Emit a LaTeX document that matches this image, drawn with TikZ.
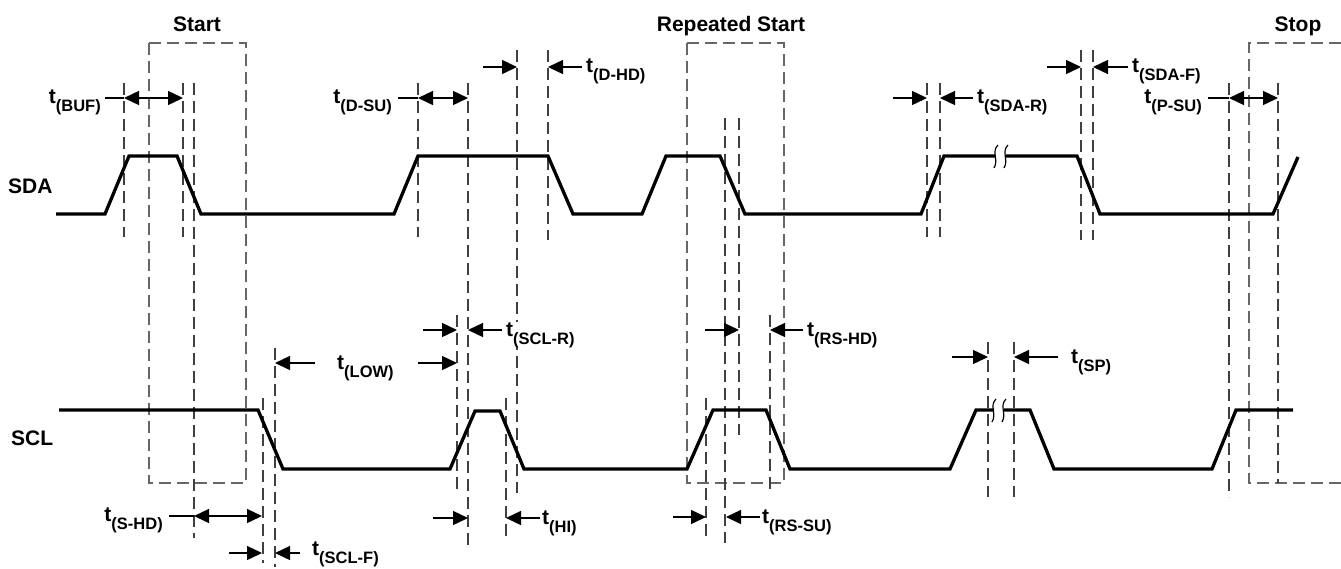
\documentclass[tikz,border=0pt]{standalone}
\usepackage{fontspec}
\setmainfont{Liberation Sans}
\usetikzlibrary{arrows.meta}
\newcommand{\tlab}[1]{t\lower8pt\hbox{\fontsize{16.5}{16.5}\selectfont\bfseries #1}}
\begin{document}
\begin{tikzpicture}[x=1pt,y=-1pt,
  sig/.style={line width=3.3pt, black},
  vdash/.style={line width=1.3pt, black!75, dash pattern=on 12pt off 6pt},
  boxdash/.style={line width=1.3pt, black!60, dash pattern=on 12pt off 6pt},
  meas/.style={line width=1.4pt, -{Triangle[length=15pt,width=14pt]}},
  dmeas/.style={line width=1.4pt, {Triangle[length=15pt,width=14pt]}-{Triangle[length=15pt,width=14pt]}},
  lead/.style={line width=1.4pt},
  brk/.style={line width=1.2pt},
  lbl/.style={inner sep=0pt, font=\fontsize{21}{21}\selectfont\bfseries},
  tl/.style={lbl, fill=white},
]
\useasboundingbox (0,0) rectangle (1341,568);

% ---------- titles ----------
\node[lbl, anchor=base] (tStart) at (197,31) {Start};
\node[lbl, anchor=base] (tRep) at (731,31) {Repeated Start};
\node[lbl, anchor=base] (tStop) at (1298,31) {Stop};
\node[lbl, anchor=base west] (nSDA) at (8,193) {SDA};
\node[lbl, anchor=base west] (nSCL) at (11,445) {SCL};

% ---------- dashed boxes ----------
\draw[boxdash] (149,43) rectangle (246,483);
\draw[boxdash] (687,43) rectangle (784,483);
\draw[boxdash] (1341,43) -- (1249,43) -- (1249,483) -- (1341,483);

% ---------- dashed timing lines ----------
\foreach \x/\a/\b in {124/83/237, 183/83/237, 194/83/538, 263/398/563, 275/348/567,
  418/83/237, 468/83/547, 517/50/493, 548/50/240, 457/315/492, 506/398/538,
  725/118/543, 739/118/435, 770/315/492, 706/398/540,
  927/83/237, 940/83/237, 1081/50/240, 1093/50/240,
  988/342/497, 1014/342/497, 1229/83/497, 1278/83/483}
  \draw[vdash] (\x,\a) -- (\x,\b);

% ---------- SDA ----------
\draw[sig] (56,214) -- (105,214) -- (129,156) -- (177,156) -- (201,214) -- (394,214)
  -- (418,156) -- (548,156) -- (573,214) -- (642,214) -- (666,156) -- (720,156)
  -- (745,214) -- (921,214) -- (944,156) -- (995,156);
\draw[sig] (1006,156) -- (1077,156) -- (1100,214) -- (1273,214) -- (1298,157);
\draw[brk] (998,145) .. controls (991,152) and (999,160) .. (994,168);
\draw[brk] (1008,145) .. controls (1001,152) and (1009,160) .. (1004,168);

% ---------- SCL ----------
\draw[sig] (59,410) -- (258,410) -- (283,469) -- (450,469) -- (475,411) -- (500,411)
  -- (524,469) -- (687,469) -- (713,410) -- (766,410) -- (790,469) -- (950,469)
  -- (976,410) -- (994,410);
\draw[sig] (1004,410) -- (1030,410) -- (1054,469) -- (1212,469) -- (1236,410) -- (1293,410);
\draw[brk] (996,399) .. controls (989,406) and (997,414) .. (992,422);
\draw[brk] (1006,399) .. controls (999,406) and (1007,414) .. (1002,422);

% ---------- measurement arrows ----------
% t(BUF)
\draw[lead] (105,98) -- (124,98);
\draw[dmeas] (124,98) -- (183,98);
% t(D-SU)
\draw[lead] (398,98) -- (418,98);
\draw[dmeas] (418,98) -- (468,98);
% t(D-HD)
\draw[meas] (483,67) -- (517,67);
\draw[meas] (582,67) -- (548,67);
% t(SDA-R)
\draw[meas] (893,98) -- (927,98);
\draw[meas] (973,98) -- (940,98);
% t(SDA-F)
\draw[meas] (1047,67) -- (1081,67);
\draw[meas] (1128,67) -- (1093,67);
% t(P-SU)
\draw[lead] (1208,98) -- (1229,98);
\draw[dmeas] (1229,98) -- (1278,98);
% t(S-HD)
\draw[lead] (169,516) -- (194,516);
\draw[dmeas] (194,516) -- (262,516);
% t(SCL-F)
\draw[meas] (229,553) -- (262,553);
\draw[meas] (300,553) -- (275,553);
% t(LOW)
\draw[meas] (315,363) -- (275,363);
\draw[meas] (418,363) -- (457,363);
% t(SCL-R)
\draw[meas] (423,330) -- (457,330);
\draw[meas] (502,330) -- (468,330);
% t(HI)
\draw[meas] (433,518) -- (468,518);
\draw[meas] (540,518) -- (506,518);
% t(RS-HD)
\draw[meas] (705,330) -- (739,330);
\draw[meas] (803,330) -- (770,330);
% t(RS-SU)
\draw[meas] (673,517) -- (706,517);
\draw[meas] (760,517) -- (726,517);
% t(SP)
\draw[meas] (952,357) -- (988,357);
\draw[meas] (1058,357) -- (1014,357);

% ---------- labels ----------
\node[tl, anchor=base east] (lBUF) at (101,103) {\tlab{(BUF)}};
\node[tl, anchor=base east] (lDSU) at (392,103) {\tlab{(D-SU)}};
\node[tl, anchor=base west] (lDHD) at (586,72) {\tlab{(D-HD)}};
\node[tl, anchor=base west] (lSDAR) at (977,103) {\tlab{(SDA-R)}};
\node[tl, anchor=base west] (lSDAF) at (1132,72) {\tlab{(SDA-F)}};
\node[tl, anchor=base east] (lPSU) at (1202,103) {\tlab{(P-SU)}};
\node[tl, anchor=base east] (lSHD) at (163,521) {\tlab{(S-HD)}};
\node[tl, anchor=base west] (lSCLF) at (312,555) {\tlab{(SCL-F)}};
\node[tl, anchor=base west] (lLOW) at (337,369) {\tlab{(LOW)}};
\node[tl, anchor=base west] (lSCLR) at (506,336) {\tlab{(SCL-R)}};
\node[tl, anchor=base west] (lHI) at (542,524) {\tlab{(HI)}};
\node[tl, anchor=base west] (lRSHD) at (807,336) {\tlab{(RS-HD)}};
\node[tl, anchor=base west] (lRSSU) at (762,523) {\tlab{(RS-SU)}};
\node[tl, anchor=base west] (lSP) at (1071,363) {\tlab{(SP)}};
\end{tikzpicture}
\end{document}
